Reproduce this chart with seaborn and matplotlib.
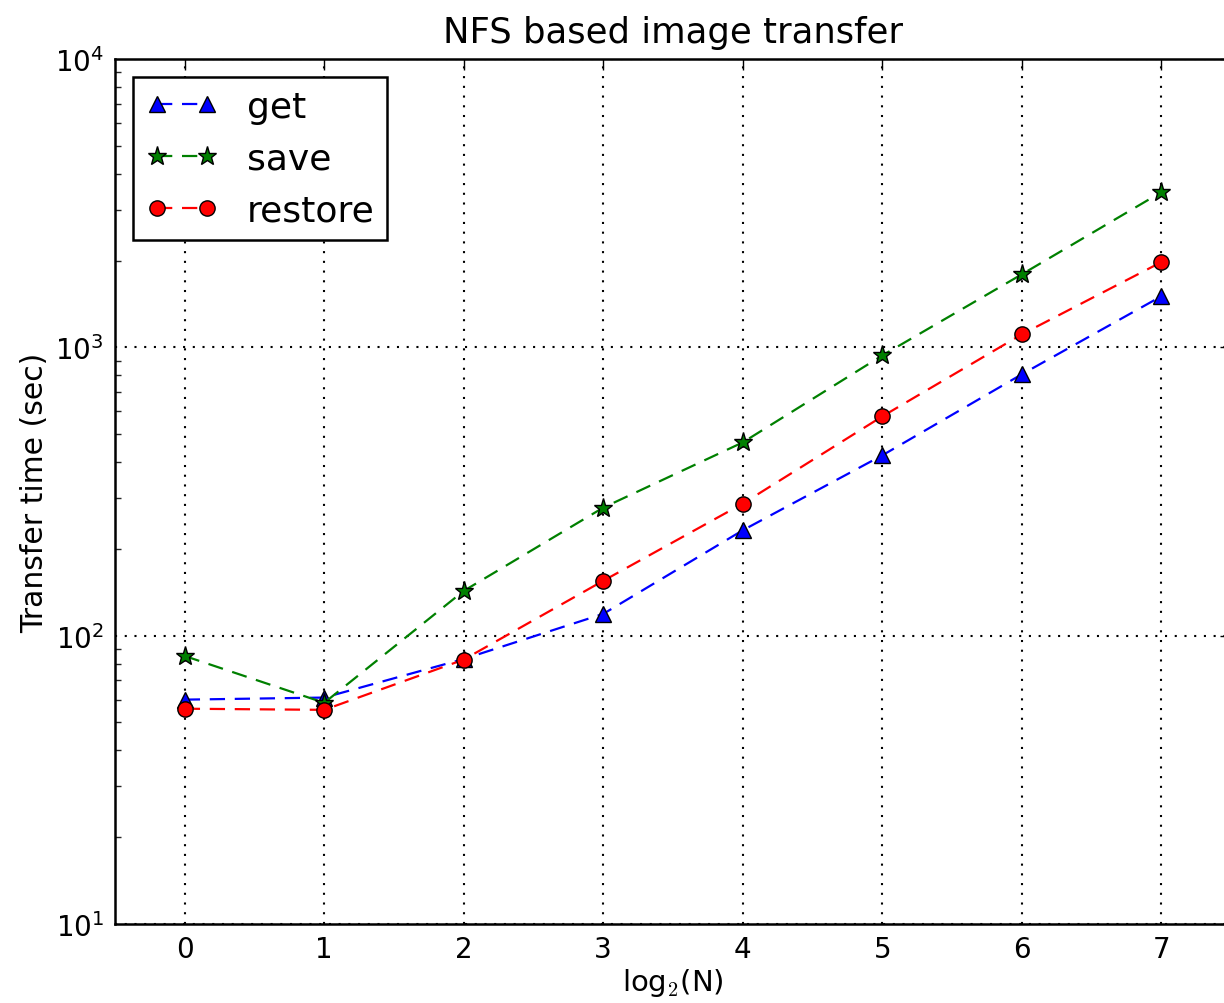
import numpy as np
import pandas as pd
import matplotlib
matplotlib.use("Agg")
import matplotlib.pyplot as plt
import seaborn as sns
from matplotlib.ticker import LogLocator

x_vals = [0, 1, 2, 3, 4, 5, 6, 7]
get_vals = [60, 61, 83, 119, 232, 422, 806, 1503]
save_vals = [85, 58.5, 143, 278, 468, 937, 1791, 3451]
restore_vals = [55.8, 55.3, 82.6, 155, 287, 576, 1109, 1974]
series_names = ["get", "save", "restore"]
series_colors = ["#0000ff", "#008000", "#ff0000"]
series_markers = ["^", "*", "o"]

sns.set_style("white")
plt.rcParams['font.family'] = ['DejaVu Sans']
plt.rcParams['mathtext.fontset'] = 'cm'
plt.rcParams['mathtext.default'] = 'rm'
plt.rcParams['lines.scale_dashes'] = False
plt.rcParams['text.color'] = 'black'
plt.rcParams['axes.labelcolor'] = 'black'

fig = plt.figure(figsize=(12.24, 10.04), dpi=100)
ax = fig.add_axes([115/1224, 79/1004, 1116/1224, 865/1004])

df = pd.DataFrame({
    "x": x_vals * 3,
    "y": get_vals + save_vals + restore_vals,
    "series": ["get"] * 8 + ["save"] * 8 + ["restore"] * 8,
})

for name, col, mk in zip(series_names, series_colors, series_markers):
    sub = df[df["series"] == name]
    ms = 14 if mk == "*" else 11
    sns.lineplot(data=sub, x="x", y="y", ax=ax, color=col, marker=mk,
                 markersize=ms, markeredgecolor="black", markeredgewidth=1.0,
                 linestyle="--", linewidth=1.6, label=name, legend=False)

for ln in ax.get_lines():
    ln.set_dashes((11, 7))

ax.set_yscale("log")
ax.set_xlim(-0.5, 7.5)
ax.set_ylim(10, 10000)
ax.set_xticks(x_vals)
ax.yaxis.set_major_locator(LogLocator(base=10))
ax.yaxis.set_minor_locator(LogLocator(base=10, subs=np.arange(2, 10)))
ax.grid(True, which="major", linestyle=(0, (1.5, 5.5)), color="black", linewidth=1.5)
ax.tick_params(axis="both", which="major", direction="in", length=8, width=1,
               labelsize=20, top=True, right=True, pad=8, colors="black")
ax.tick_params(axis="y", which="minor", direction="in", length=4, width=1,
               left=True, right=True)
for s in ax.spines.values():
    s.set_color("black")
    s.set_linewidth(1.8)

ax.set_title("NFS based image transfer", fontsize=25.5, pad=12, color="black")
ax.set_xlabel("log$_2$(N)", fontsize=21, labelpad=2)
ax.set_ylabel("Transfer time (sec)", fontsize=21.5, labelpad=4)

leg = ax.legend(loc="upper left", numpoints=2, fontsize=26, frameon=True,
                fancybox=False, edgecolor="black", framealpha=1,
                borderpad=0.35, handlelength=2.0, handletextpad=0.8,
                labelspacing=0.5, bbox_to_anchor=(0.0, 1.0),
                borderaxespad=0.5)
leg.get_frame().set_linewidth(1.8)
for t in leg.get_texts():
    t.set_color("black")

fig.savefig("out.png", dpi=100)
